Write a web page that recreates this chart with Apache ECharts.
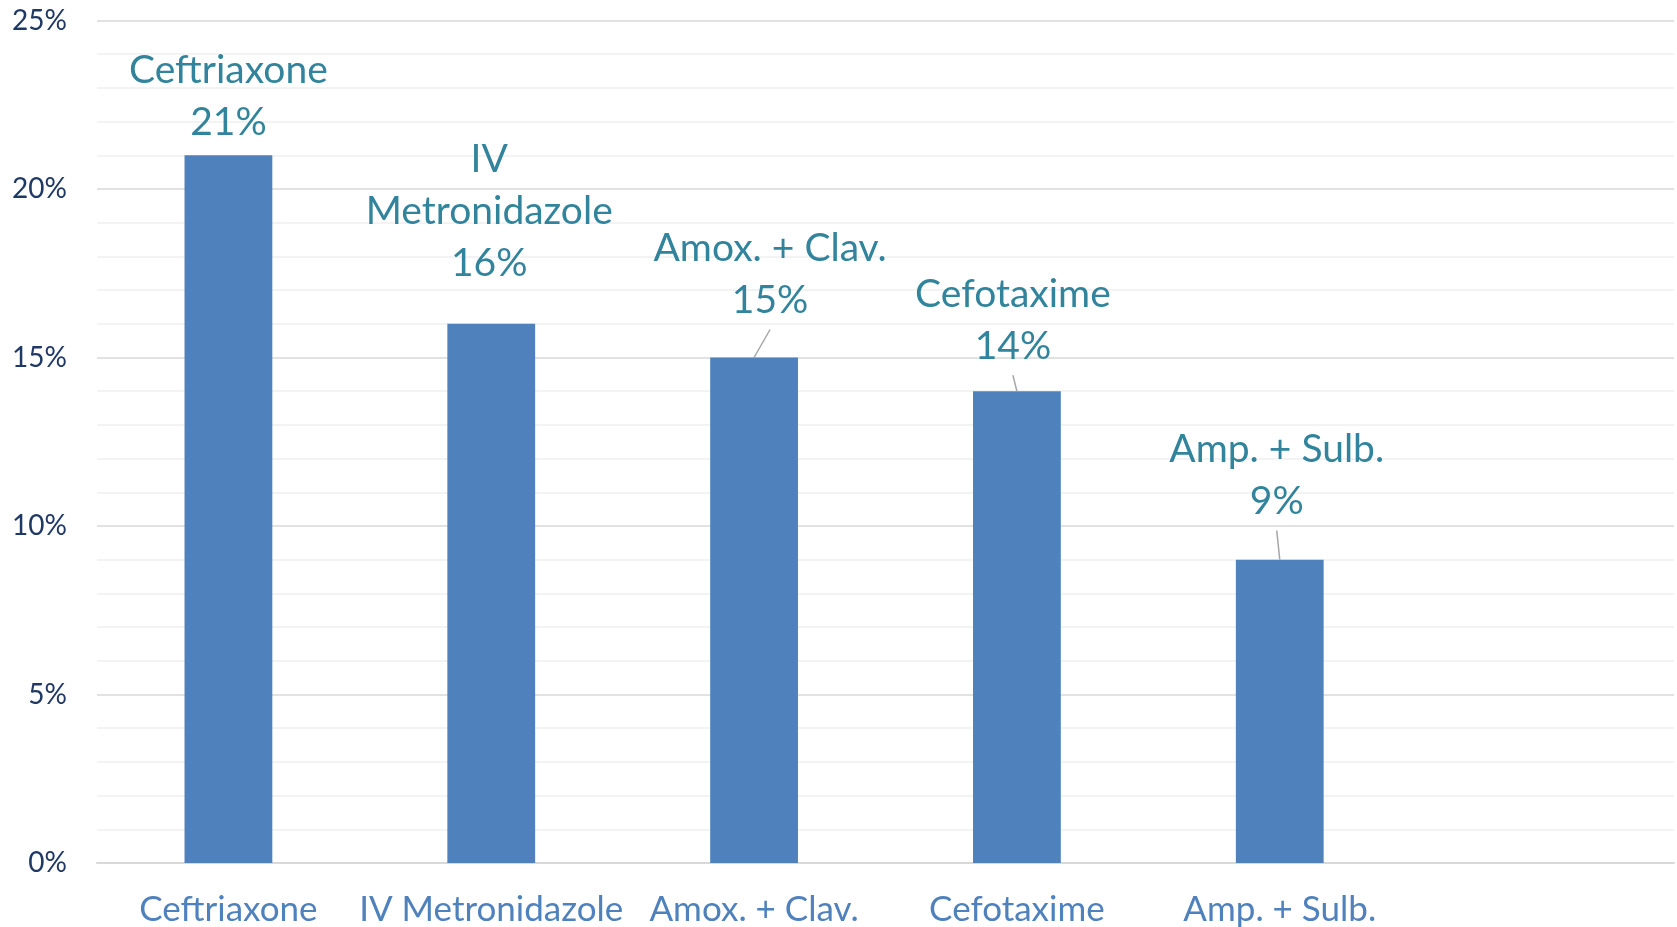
<!DOCTYPE html>
<html>
<head>
<meta charset="utf-8">
<title>Antibiotic use</title>
<script src="https://cdn.jsdelivr.net/npm/echarts@6/dist/echarts.min.js"></script>
<style>
  html, body { margin: 0; padding: 0; background: #ffffff; }
  #chart { width: 1677px; height: 927px; }
</style>
</head>
<body>
<div id="chart"></div>
<script>
// Share of prescriptions per antibiotic (percent)
const categories = ['Ceftriaxone', 'IV Metronidazole', 'Amox. + Clav.', 'Cefotaxime', 'Amp. + Sulb.', ''];
const shares = [21, 16, 15, 14, 9];
const labelNames = ['Ceftriaxone', 'IV\nMetronidazole', 'Amox. + Clav.', 'Cefotaxime', 'Amp. + Sulb.'];
const yTicks = { min: 0, max: 25, interval: 5 };

// Where each value label sits relative to its bar: sideways shift, lift above the bar, leader line
const labelPlacement = [
  { dx: 0,  gap: 7,  leader: false },
  { dx: -2, gap: 34, leader: false },
  { dx: 16, gap: 31, leader: true },
  { dx: -4, gap: 19, leader: true },
  { dx: -3, gap: 32, leader: true }
];

const FONT = 'Lato';
const chart = echarts.init(document.getElementById('chart'), null, { renderer: 'canvas' });

chart.setOption({
  animation: false,
  backgroundColor: '#ffffff',
  grid: { left: 97, right: 3, top: 20.5, bottom: 58, containLabel: false },
  xAxis: {
    type: 'category',
    data: categories,
    axisLine: { show: true, lineStyle: { color: '#d9d9d9', width: 2 } },
    axisTick: { show: false },
    axisLabel: {
      interval: 0,
      margin: 29,
      fontFamily: FONT,
      fontSize: 35,
      color: '#4f81bd'
    }
  },
  yAxis: {
    type: 'value',
    min: yTicks.min,
    max: yTicks.max,
    interval: yTicks.interval,
    axisLine: { show: false },
    axisTick: { show: false },
    axisLabel: {
      formatter: '{value}%',
      margin: 30,
      fontFamily: FONT,
      fontSize: 28,
      color: '#1f3864'
    },
    splitLine: { show: true, lineStyle: { color: '#d9d9d9', width: 1.5 } },
    minorTick: { show: false, splitNumber: 5 },
    minorSplitLine: { show: true, lineStyle: { color: '#f0f0f0', width: 1.5 } }
  },
  series: [
    {
      type: 'bar',
      barWidth: '33.4%',
      itemStyle: { color: '#4f81bd' },
      data: shares.map((v, i) => ({
        value: v,
        label: { offset: [labelPlacement[i].dx, -labelPlacement[i].gap] }
      })),
      label: {
        show: true,
        position: 'top',
        distance: 0,
        fontFamily: FONT,
        fontSize: 39,
        lineHeight: 52,
        color: '#31849b',
        align: 'center',
        formatter: p => labelNames[p.dataIndex] + '\n' + p.value + '%'
      }
    },
    {
      // leader lines from bar tops to their shifted value labels
      type: 'custom',
      silent: true,
      z: 5,
      data: shares.map((v, i) => [i, v]),
      renderItem: (params, api) => {
        const i = api.value(0);
        const pl = labelPlacement[i];
        if (!pl.leader) return null;
        const top = api.coord([i, api.value(1)]);
        return {
          type: 'line',
          shape: { x1: top[0], y1: top[1], x2: top[0] + pl.dx, y2: top[1] - pl.gap + 3 },
          style: { stroke: '#a6a6a6', lineWidth: 1.5 }
        };
      }
    }
  ]
});
</script>
</body>
</html>
